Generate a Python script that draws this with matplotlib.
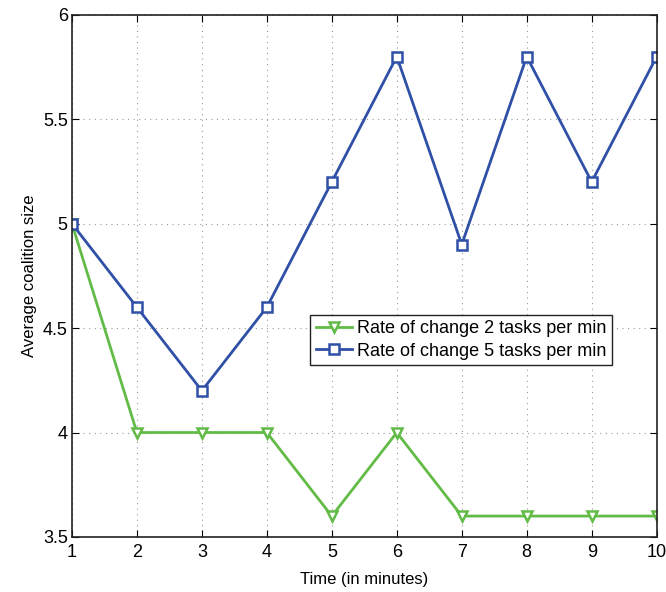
import matplotlib
matplotlib.use('Agg')
import matplotlib.pyplot as plt

plt.rcParams['font.family'] = ['Liberation Sans', 'DejaVu Sans']

# data
time_min = [1, 2, 3, 4, 5, 6, 7, 8, 9, 10]
rate2 = [5.0, 4.0, 4.0, 4.0, 3.6, 4.0, 3.6, 3.6, 3.6, 3.6]
rate5 = [5.0, 4.6, 4.2, 4.6, 5.2, 5.8, 4.9, 5.8, 5.2, 5.8]
xticks = [1, 2, 3, 4, 5, 6, 7, 8, 9, 10]
yticks = [3.5, 4, 4.5, 5, 5.5, 6]
ytick_labels = ['3.5', '4', '4.5', '5', '5.5', '6']

green = '#62bb46'
blue = '#2f50a6'

fig = plt.figure(figsize=(6.66, 5.92), dpi=100)
ax = fig.add_axes([0.108, 0.093, 0.878, 0.882])

ax.plot(time_min, rate2, color=green, lw=2, marker='v', ms=7.5,
        mfc='white', mec=green, mew=1.8, label='Rate of change 2 tasks per min')
ax.plot(time_min, rate5, color=blue, lw=2, marker='s', ms=6.5,
        mfc='white', mec=blue, mew=1.8, label='Rate of change 5 tasks per min')

ax.set_xlim(1, 10)
ax.set_ylim(3.5, 6)
ax.set_xticks(xticks)
ax.set_yticks(yticks)
ax.set_yticklabels(ytick_labels)
ax.tick_params(direction='in', top=True, right=True, labelsize=13, length=5)
ax.tick_params(axis='x', pad=5)
ax.tick_params(axis='y', pad=3)
ax.grid(True, linestyle=(0, (1, 4)), color='#999999', lw=0.8)
for s in ax.spines.values():
    s.set_linewidth(1.2)
    s.set_color('#222222')

ax.set_xlabel('Time (in minutes)', fontsize=12, labelpad=8)
ax.set_ylabel('Average coalition size', fontsize=12, labelpad=4)

leg = ax.legend(loc='lower left', bbox_to_anchor=(0.392, 0.312), fontsize=13,
                fancybox=False, edgecolor='#222222', framealpha=1,
                handlelength=2.0, handletextpad=0.3, borderpad=0.3,
                labelspacing=0.3)
leg.get_frame().set_linewidth(1.0)

fig.savefig('out.png', dpi=100)
